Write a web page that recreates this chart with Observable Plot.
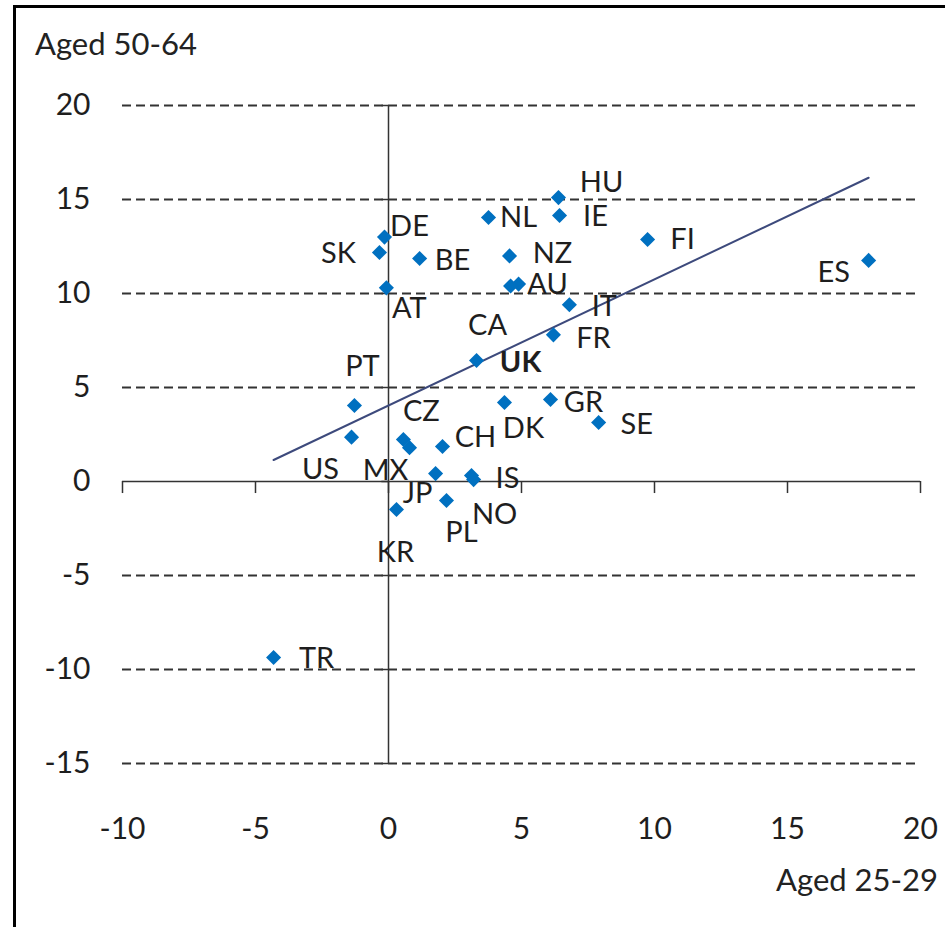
<!DOCTYPE html>
<html>
<head>
<meta charset="utf-8">
<script src="https://cdn.jsdelivr.net/npm/d3@7"></script>
<script src="https://cdn.jsdelivr.net/npm/@observablehq/plot@0.6"></script>
<style>
  html, body { margin: 0; padding: 0; background: #fff; }
  #wrap { position: relative; width: 945px; height: 927px; overflow: hidden; font-family: Lato, "Open Sans", sans-serif; }
  #frame { position: absolute; left: 13px; top: 5px; width: 1000px; height: 1000px; border-left: 3px solid #000; border-top: 3px solid #000; }
  .ttl { position: absolute; font-size: 31px; color: #222; line-height: 1; white-space: nowrap; }
  #chart { position: absolute; left: 0; top: 0; }
</style>
</head>
<body>
<div id="wrap">
  <div id="chart"></div>
  <div id="frame"></div>
  <div class="ttl" id="ytitle" style="left:35px; top:28px;">Aged 50-64</div>
  <div class="ttl" id="xtitle" style="right:7px; top:864px;">Aged 25-29</div>
</div>
<script>
// Countries and employment-rate changes (percentage points)
const countries = ["HU","IE","NL","DE","SK","BE","NZ","AU","CA","AT","IT","FR","UK","FI","ES",
                   "PT","CZ","CH","DK","GR","SE","US","MX","JP","IS","NO","PL","KR","TR"];
const aged2529 = [6.39, 6.43, 3.76, -0.15, -0.34, 1.17, 4.55, 4.89, 4.59, -0.08, 6.8, 6.2, 3.31, 9.74, 18.05,
                  -1.28, 0.56, 2.03, 4.36, 6.09, 7.9, -1.39, 0.79, 1.77, 3.12, 3.2, 2.18, 0.3, -4.32];
const aged5064 = [15.1, 14.15, 14.04, 13.0, 12.18, 11.86, 12.0, 10.5, 10.4, 10.3, 9.4, 7.8, 6.44, 12.87, 11.76,
                  4.04, 2.23, 1.86, 4.2, 4.36, 3.14, 2.36, 1.8, 0.42, 0.32, 0.1, -1.01, -1.49, -9.36];
const xTicks = [-10, -5, 0, 5, 10, 15, 20];
const yTicks = [-15, -10, -5, 0, 5, 10, 15, 20];

// Label placement (pixel offsets of label centre from its point)
const labelOffsets = {
  HU:[43,-15], IE:[36,1], NL:[30,0], DE:[25,-10], SK:[-41,1], BE:[33,2], NZ:[43,-2], AU:[29,1],
  CA:[-23,40], AT:[23,21], IT:[35,2], FR:[40,4], UK:[44,2], FI:[35,0], ES:[-35,12], PT:[8,-39],
  CZ:[18,-28], CH:[33,-9], DK:[19,26], GR:[33,3], SE:[38,2], US:[-31,33], MX:[-24,23], JP:[-18,20],
  IS:[36,3], NO:[21,35], PL:[15,32], KR:[-1,43], TR:[43,1]
};

const data = countries.map((c, i) => ({country: c, x: aged2529[i], y: aged5064[i]}));

const labelMarks = data.map(d => Plot.text([d], {
  x: "x", y: "y", text: "country",
  dx: labelOffsets[d.country][0], dy: labelOffsets[d.country][1],
  textAnchor: "middle", lineAnchor: "middle",
  fill: "#1e1e1e", fontWeight: d.country === "UK" ? "bold" : "normal"
}));

const chart = Plot.plot({
  width: 945,
  height: 927,
  marginLeft: 122,
  marginRight: 25,
  marginTop: 105,
  marginBottom: 164,
  style: {fontFamily: "Lato, 'Open Sans', sans-serif", fontSize: "29px", color: "#1e1e1e", background: "transparent"},
  x: {domain: [-10, 20]},
  y: {domain: [-15, 20]},
  marks: [
    Plot.ruleY(yTicks.filter(v => v !== 0), {y: d => d, x1: -10, x2: 20, stroke: "#333", strokeWidth: 2.2, strokeDasharray: "9,5"}),
    Plot.ruleX([0], {y1: -15, y2: 20, stroke: "#333", strokeWidth: 1.5}),
    Plot.ruleY([0], {x1: -10, x2: 20, stroke: "#333", strokeWidth: 1.5}),
    Plot.ruleX(xTicks, {x: d => d, y1: 0, y2: -0.64, stroke: "#333", strokeWidth: 1.5}),
    Plot.ruleY(yTicks, {y: d => d, x1: -0.25, x2: 0, stroke: "#333", strokeWidth: 1.5}),
    Plot.linearRegressionY(data, {x: "x", y: "y", ci: 0, stroke: "#3d4a7c", strokeWidth: 2}),
    Plot.dot(data, {x: "x", y: "y", symbol: "diamond2", r: 6.8, fill: "#0070c0", stroke: "none"}),
    ...labelMarks,
    Plot.axisY({ticks: yTicks, tickSize: 0, tickPadding: 32, label: null, tickFormat: d => String(d), fontSize: 30}),
    Plot.axisX({ticks: xTicks, tickSize: 0, tickPadding: 54, label: null, tickFormat: d => String(d), fontSize: 30})
  ]
});
document.getElementById("chart").appendChild(chart);
</script>
</body>
</html>
